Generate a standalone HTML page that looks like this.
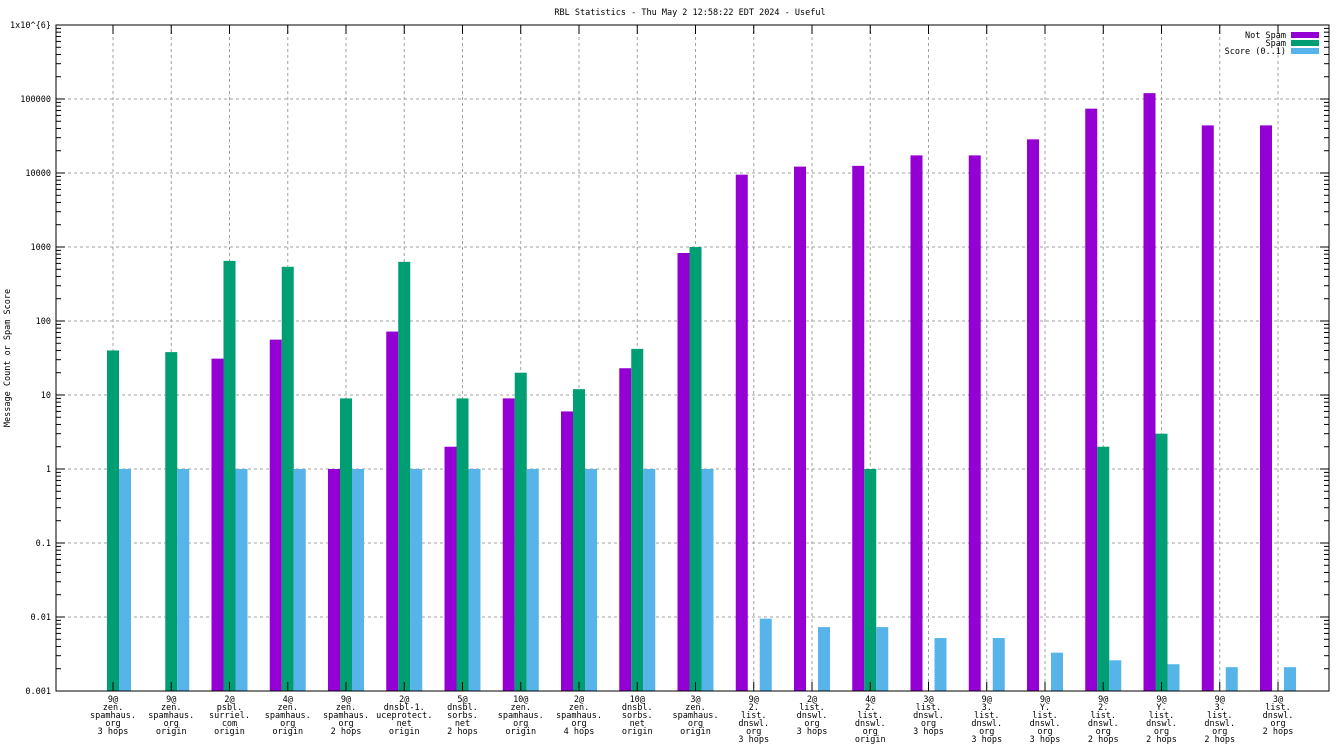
<!DOCTYPE html>
<html><head><meta charset="utf-8"><style>
body{margin:0;background:#fff}
svg{display:block;font-family:"DejaVu Sans Mono","Liberation Mono",monospace;font-size:8.5px}
</style></head><body>
<svg id="c" width="1344" height="756" viewBox="0 0 1344 756" xmlns="http://www.w3.org/2000/svg">
<text x="690" y="15" text-anchor="middle">RBL Statistics - Thu May  2 12:58:22 EDT 2024 - Useful</text>
<text transform="translate(10,358) rotate(-90)" text-anchor="middle">Message Count or Spam Score</text>
<g id="grid"></g><g id="bars"></g><g id="axes"></g>
<g>
<text x="1286" y="38" text-anchor="end">Not Spam</text><rect x="1291" y="32" width="28" height="6" fill="#9400d3"/>
<text x="1286" y="46" text-anchor="end">Spam</text><rect x="1291" y="40" width="28" height="6" fill="#009e73"/>
<text x="1286" y="54" text-anchor="end">Score (0..1)</text><rect x="1291" y="48" width="28" height="6" fill="#56b4e9"/>
</g>
</svg>
<script>
const categories=[
["9@","zen.","spamhaus.","org","3 hops"],["9@","zen.","spamhaus.","org","origin"],["2@","psbl.","surriel.","com","origin"],
["4@","zen.","spamhaus.","org","origin"],["9@","zen.","spamhaus.","org","2 hops"],["2@","dnsbl-1.","uceprotect.","net","origin"],
["5@","dnsbl.","sorbs.","net","2 hops"],["10@","zen.","spamhaus.","org","origin"],["2@","zen.","spamhaus.","org","4 hops"],
["10@","dnsbl.","sorbs.","net","origin"],["3@","zen.","spamhaus.","org","origin"],["9@","2.","list.","dnswl.","org","3 hops"],
["2@","list.","dnswl.","org","3 hops"],["4@","2.","list.","dnswl.","org","origin"],["3@","list.","dnswl.","org","3 hops"],
["9@","3.","list.","dnswl.","org","3 hops"],["9@","Y.","list.","dnswl.","org","3 hops"],["9@","2.","list.","dnswl.","org","2 hops"],
["9@","Y.","list.","dnswl.","org","2 hops"],["9@","3.","list.","dnswl.","org","2 hops"],["3@","list.","dnswl.","org","2 hops"]];
const notSpam=[0,0,31,56,1,72,2,9,6,23,830,9500,12200,12500,17300,17300,28500,74000,120000,44000,44000];
const spamVals=[40,38,650,540,9,630,9,20,12,42,1000,0,0,1,0,0,0,2,3,0,0];
const score=[1,1,1,1,1,1,1,1,1,1,1,0.0095,0.0073,0.0073,0.0052,0.0052,0.0033,0.0026,0.0023,0.0021,0.0021];
const yTicks=[0.001,0.01,0.1,1,10,100,1000,10000,100000,1000000];
const yTickLabels=["0.001","0.01","0.1","1","10","100","1000","10000","100000","1x10^{6}"];
const NS="http://www.w3.org/2000/svg";
const L=56,R=1329,T=25,B=691;
const y=v=>B-(Math.log10(v)+3)*(B-T)/9;
const x=i=>113+i*58.25;
function mk(tag,attrs,parent){const e=document.createElementNS(NS,tag);for(const k in attrs)e.setAttribute(k,attrs[k]);parent.appendChild(e);return e;}
const grid=document.getElementById('grid'),bars=document.getElementById('bars'),axes=document.getElementById('axes');
yTicks.forEach((t,i)=>{
  const yy=y(t);
  if(i>0&&i<yTicks.length-1){const g=mk('line',{x1:L,x2:R,y1:yy,y2:yy,stroke:'#a0a0a0','stroke-dasharray':'3,3'},grid);
  
  }
  const lb=mk('text',{x:L-5,y:yy+3,'text-anchor':'end'},axes);lb.textContent=yTickLabels[i];
  
  
  mk('line',{x1:L,x2:L+9,y1:yy,y2:yy,stroke:'#000'},axes);mk('line',{x1:R,x2:R-9,y1:yy,y2:yy,stroke:'#000'},axes);
  if(i<yTicks.length-1)for(let m=2;m<10;m++){const ym=y(t*m);
    mk('line',{x1:L,x2:L+5,y1:ym,y2:ym,stroke:'#000'},axes);mk('line',{x1:R,x2:R-5,y1:ym,y2:ym,stroke:'#000'},axes);}
});
categories.forEach((c,i)=>{
  const xx=x(i);
  const g=mk('line',{x1:xx,x2:xx,y1:T,y2:B,stroke:'#a0a0a0','stroke-dasharray':'3,3'},grid);
  
  
  mk('line',{x1:xx,x2:xx,y1:B,y2:B-9,stroke:'#000'},axes);mk('line',{x1:xx,x2:xx,y1:T,y2:T+9,stroke:'#000'},axes);
  const series=[[notSpam[i],'#9400d3',-12,'bar-not-spam'],[spamVals[i],'#009e73',0,'bar-spam'],[score[i],'#56b4e9',12,'bar-score']];
  series.forEach(s=>{ if(s[0]>0){const yy=y(s[0]);
    const r=mk('rect',{x:xx+s[2]-6,y:yy,width:12,height:B-yy,fill:s[1]},bars);
    
    }});
  const t=mk('text',{'text-anchor':'middle'},axes);
  
  
  c.forEach((line,j)=>{const ts=mk('tspan',{x:xx,y:702+j*8},t);ts.textContent=line;});
});
mk('rect',{x:L,y:T,width:R-L,height:B-T,fill:'none',stroke:'#000'},axes);
</script>
</body></html>
